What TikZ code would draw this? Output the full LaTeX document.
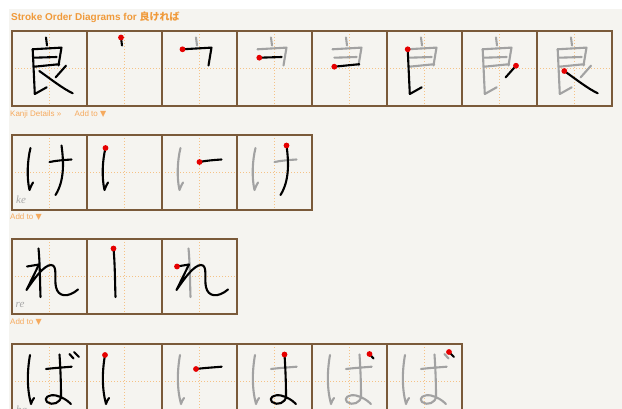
\documentclass[tikz,border=0pt]{standalone}
\usepackage{fontspec}
\setmainfont{Liberation Sans}
\setsansfont{Liberation Sans}
\newfontfamily\cjkfont{Noto Sans CJK JP}
\newfontfamily\symfont{DejaVu Sans}
\newfontfamily\romfont{Liberation Serif}
\usetikzlibrary{positioning}
\definecolor{pagebg}{HTML}{F5F4F0}
\definecolor{framebrown}{HTML}{7A5A3A}
\definecolor{guideorange}{HTML}{F5C286}
\definecolor{titleorange}{HTML}{F09A3A}
\definecolor{linkorange}{HTML}{F5AA5E}
\definecolor{oldstroke}{HTML}{A2A2A2}
\definecolor{romagray}{HTML}{A8A8A8}

% strokes of each character, cell coordinates 0..75
\newcommand{\ryoA}[1]{\draw[#1] (34,6.5) -- (35,14.5);}
\newcommand{\ryoB}[1]{\draw[#1] (20.5,18.3) -- (49.5,16.6) -- (46.5,34.5);}
\newcommand{\ryoC}[1]{\draw[#1] (22.3,26.7) -- (44.7,26);}
\newcommand{\ryoD}[1]{\draw[#1] (22.3,35.7) -- (47.3,33.2);}
\newcommand{\ryoE}[1]{\draw[#1] (20.7,18.3) -- (22.8,63) -- (34.7,56.3);}
\newcommand{\ryoF}[1]{\draw[#1] (54,34.7) -- (43.7,46.3);}
\newcommand{\ryoG}[1]{\draw[#1] (27.3,40) .. controls (40,49) and (50,57) .. (60.7,62.3);}
\newcommand{\keA}[1]{\draw[#1] (18.5,13) .. controls (15.5,25) and (14.5,42) .. (17.5,55) .. controls (18.5,52) and (19.5,50) .. (21,47.5);}
\newcommand{\keB}[1]{\draw[#1] (37.5,27) .. controls (45,25.5) and (52,25) .. (59.5,24.5);}
\newcommand{\keC}[1]{\draw[#1] (49.5,10.5) .. controls (51.5,25) and (53,45) .. (43.5,60);}
\newcommand{\reA}[1]{\draw[#1] (26.5,9.5) .. controls (28,25) and (28,45) .. (28.5,58);}
\newcommand{\reB}[1]{\draw[#1] (15,27.5) -- (27,25.5) -- (14.5,51) .. controls (22,40) and (32,26) .. (39,26) .. controls (46,26) and (42,40) .. (44,48) .. controls (46,58) and (56,59) .. (66,50.5);}
\newcommand{\baA}[1]{\draw[#1] (18,11) .. controls (15,28) and (15,45) .. (19,60) .. controls (19.5,58) and (20.5,56) .. (22,54);}
\newcommand{\baB}[1]{\draw[#1] (34,25) .. controls (42,24) and (50,23.5) .. (59.7,22.7);}
\newcommand{\baC}[1]{\draw[#1] (47.5,10.5) .. controls (48.5,25) and (49,40) .. (49,52) .. controls (49,59) and (40,62) .. (35,58) .. controls (31,54) and (37,50) .. (44,51.5) .. controls (50,53) and (55,56) .. (59,60);}
\newcommand{\baD}[1]{\draw[#1] (57.5,10) -- (61.5,14.5);}
\newcommand{\baE}[1]{\draw[#1] (62,8) -- (67,13);}
\newcommand{\startdot}[1]{\fill[startmark] (#1) circle (2.9pt);}

\begin{document}
\begin{tikzpicture}[
    x=1pt, y=-1pt,
    cellframe/.style={draw=framebrown, line width=1.6pt},
    guideline/.style={draw=guideorange, line width=1.1pt, dash pattern=on 1.2pt off 1.8pt},
    ink/.style={draw=black, line width=2.1pt, line cap=round, line join=round},
    faded/.style={ink, draw=oldstroke},
    startmark/.style={fill=red!90!black},
    linktext/.style={anchor=base west, inner sep=0pt, text=linkorange, font=\fontsize{8}{9}\selectfont},
    romaji/.style={anchor=base west, inner sep=0pt, text=romagray, font=\romfont\itshape\fontsize{11}{12}\selectfont}
  ]
    \clip (0,0) rectangle (622,409);
    \fill[white] (0,0) rectangle (622,409);
    \fill[pagebg] (9,9) rectangle (622,409);

    \node[anchor=base west, inner sep=0pt, text=titleorange, font=\bfseries\fontsize{10}{12}\selectfont]
      (title) at (11,21) {Stroke Order Diagrams for {\cjkfont 良ければ}};

    % grids
    \foreach \r/\n in {31/8, 135/4, 239/3, 344/6} {
      \foreach \i in {1,...,\n} {
        \draw[guideline] (12+75*\i-37.5,\r) -- ++(0,75);
        \draw[guideline] (12+75*\i-75,\r+37.5) -- ++(75,0);
      }
      \foreach \i in {1,...,\n} {
        \draw[cellframe] (12+75*\i,\r) -- ++(0,75);
      }
      \draw[cellframe] (12,\r) rectangle ++(75*\n,75);
    }

    \node[linktext] (details) at (10,116.5) {Kanji Details »};
    \node[linktext, right=13pt of details.base east, anchor=base west] (addA) {Add to {\symfont ▼}};
    \node[linktext] (addB) at (10,220) {Add to {\symfont ▼}};
    \node[linktext] (addC) at (10,324.5) {Add to {\symfont ▼}};

    % row 1: 良
    \begin{scope}[shift={(12,31)}]
      \ryoA{ink}\ryoB{ink}\ryoC{ink}\ryoD{ink}\ryoE{ink}\ryoF{ink}\ryoG{ink}
    \end{scope}
    \begin{scope}[shift={(87,31)}]
      \ryoA{ink}\startdot{34,6.5}
    \end{scope}
    \begin{scope}[shift={(162,31)}]
      \ryoA{faded}\ryoB{ink}\startdot{20.5,18.3}
    \end{scope}
    \begin{scope}[shift={(237,31)}]
      \ryoA{faded}\ryoB{faded}\ryoC{ink}\startdot{22.3,26.7}
    \end{scope}
    \begin{scope}[shift={(312,31)}]
      \ryoA{faded}\ryoB{faded}\ryoC{faded}\ryoD{ink}\startdot{22.3,35.7}
    \end{scope}
    \begin{scope}[shift={(387,31)}]
      \ryoA{faded}\ryoB{faded}\ryoC{faded}\ryoD{faded}\ryoE{ink}\startdot{20.7,18.3}
    \end{scope}
    \begin{scope}[shift={(462,31)}]
      \ryoA{faded}\ryoB{faded}\ryoC{faded}\ryoD{faded}\ryoE{faded}\ryoF{ink}\startdot{54,34.7}
    \end{scope}
    \begin{scope}[shift={(537,31)}]
      \ryoA{faded}\ryoB{faded}\ryoC{faded}\ryoD{faded}\ryoE{faded}\ryoF{faded}\ryoG{ink}\startdot{27.3,40}
    \end{scope}

    % row 2: け
    \begin{scope}[shift={(12,135)}]
      \keA{ink}\keB{ink}\keC{ink}
      \node[romaji] (keroma) at (4,69) {ke};
    \end{scope}
    \begin{scope}[shift={(87,135)}]
      \keA{ink}\startdot{18.5,13}
    \end{scope}
    \begin{scope}[shift={(162,135)}]
      \keA{faded}\keB{ink}\startdot{37.5,27}
    \end{scope}
    \begin{scope}[shift={(237,135)}]
      \keA{faded}\keB{faded}\keC{ink}\startdot{49.5,10.5}
    \end{scope}

    % row 3: れ
    \begin{scope}[shift={(12,239)}]
      \reA{ink}\reB{ink}
      \node[romaji] (reroma) at (3.5,69) {re};
    \end{scope}
    \begin{scope}[shift={(87,239)}]
      \reA{ink}\startdot{26.5,9.5}
    \end{scope}
    \begin{scope}[shift={(162,239)}]
      \reA{faded}\reB{ink}\startdot{15,27.5}
    \end{scope}

    % row 4: ば
    \begin{scope}[shift={(12,344)}]
      \baA{ink}\baB{ink}\baC{ink}\baD{ink}\baE{ink}
      \node[romaji] (baroma) at (4,69) {ba};
    \end{scope}
    \begin{scope}[shift={(87,344)}]
      \baA{ink}\startdot{18,11}
    \end{scope}
    \begin{scope}[shift={(162,344)}]
      \baA{faded}\baB{ink}\startdot{34,25}
    \end{scope}
    \begin{scope}[shift={(237,344)}]
      \baA{faded}\baB{faded}\baC{ink}\startdot{47.5,10.5}
    \end{scope}
    \begin{scope}[shift={(312,344)}]
      \baA{faded}\baB{faded}\baC{faded}\baD{ink}\startdot{57.5,10}
    \end{scope}
    \begin{scope}[shift={(387,344)}]
      \baA{faded}\baB{faded}\baC{faded}\baD{faded}\baE{ink}\startdot{62,8}
    \end{scope}
  \end{tikzpicture}
\end{document}
